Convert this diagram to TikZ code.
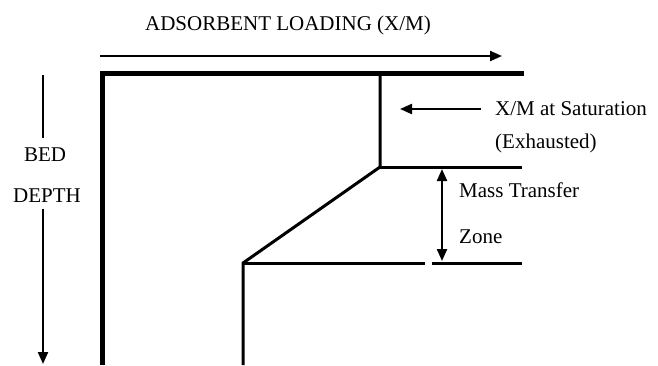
\documentclass[tikz,border=0pt]{standalone}
\usepackage{fontspec}
\setmainfont{Liberation Serif}
\usetikzlibrary{arrows.meta,positioning,calc}

\begin{document}
\begin{tikzpicture}[x=1pt, y=-1pt,
        frame/.style={line width=5pt, line join=miter},
        profile/.style={line width=3pt, line join=miter},
        arrow/.style={-{Triangle[length=12pt,width=10pt]}, line width=2.2pt},
        doublearrow/.style={{Triangle[length=12pt,width=10pt]}-{Triangle[length=12pt,width=10pt]}, line width=2.2pt},
        axislabel/.style={font=\fontsize{21}{24}\selectfont, inner sep=0pt},
        sidelabel/.style={font=\fontsize{21}{24}\selectfont, inner sep=0pt, anchor=west}
    ]
    \useasboundingbox (0,0) rectangle (658,365);

    % Column outline
    \coordinate (colTL) at (102,73);
    \coordinate (colTR) at (524,73);
    \coordinate (colBL) at (102,365);
    \draw[frame] (colBL) -- (colTL) -- (colTR);

    % Loading profile
    \coordinate (satTop) at (380,73);
    \coordinate (mtzTop) at (380,167);
    \coordinate (mtzTopEnd) at (522,167);
    \coordinate (mtzBot) at (243,263);
    \coordinate (mtzGapL) at (425,263);
    \coordinate (mtzGapR) at (432,263);
    \coordinate (mtzBotEnd) at (522,263);
    \coordinate (front) at (243,365);
    \draw[profile] (satTop) -- (mtzTop) -- (mtzBot) -- (front);
    \draw[profile] (mtzTop) -- (mtzTopEnd);
    \draw[profile] (mtzBot) -- (mtzGapL);
    \draw[profile] (mtzGapR) -- (mtzBotEnd);

    % Adsorbent loading axis
    \node[axislabel] (loading) at (288,25) {ADSORBENT LOADING (X/M)};
    \coordinate (loadStart) at (100,56);
    \coordinate (loadEnd) at (502,56);
    \draw[arrow] (loadStart) -- (loadEnd);

    % Bed depth axis
    \node[axislabel] (bed) at (45,155) {BED};
    \node[axislabel] (depth) at (47,196) {DEPTH};
    \coordinate (depthTop) at (43,75);
    \coordinate (depthEnd) at (43,364);
    \draw[line width=2.2pt] (depthTop) -- ([yshift=10pt]depthTop |- bed.north);
    \draw[arrow] ([yshift=-6pt]depthEnd |- depth.south) -- (depthEnd);

    % Saturation
    \node[sidelabel] (saturation) at (495,109) {X/M at Saturation};
    \node[sidelabel] (exhausted) at (495,143) {(Exhausted)};
    \draw[arrow] ([xshift=-14pt]saturation.west) -- ([xshift=20pt]saturation.west -| satTop);

    % Mass transfer zone
    \coordinate (mtzA) at (442,169);
    \coordinate (mtzB) at (442,261);
    \draw[doublearrow] (mtzA) -- (mtzB);
    \node[sidelabel] (masstransfer) at (459,190) {Mass Transfer};
    \node[sidelabel] (zone) at (459,237) {Zone};

\end{tikzpicture}
\end{document}
